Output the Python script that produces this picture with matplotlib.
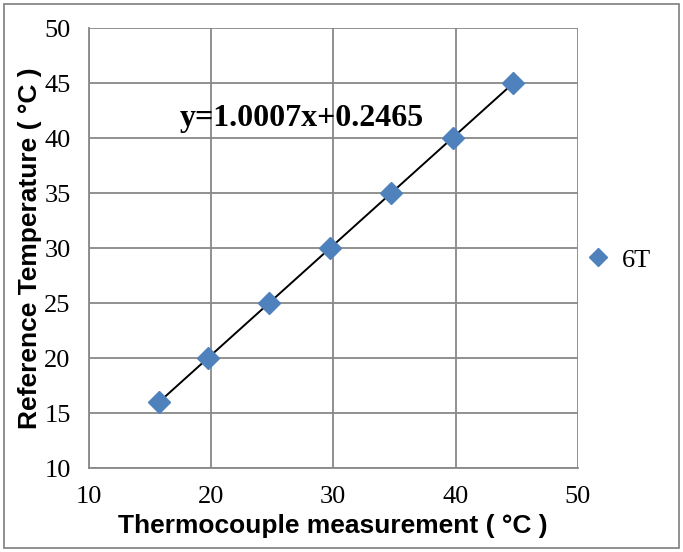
import numpy as np
import matplotlib.pyplot as plt
from matplotlib.patches import Rectangle

# Calibration data: thermocouple reading vs reference temperature
thermocouple = [15.75, 19.75, 24.75, 29.75, 34.75, 39.75, 44.7]
reference = [16, 20, 25, 30, 35, 40, 45]
slope, intercept = 1.0007, 0.2465
series_name = "6T"
x_ticks = [10, 20, 30, 40, 50]
y_ticks = [10, 15, 20, 25, 30, 35, 40, 45, 50]

serif = ["Liberation Serif", "DejaVu Serif"]
sans = ["Liberation Sans", "DejaVu Sans"]

fig = plt.figure(figsize=(6.83, 5.52), dpi=100)
ax = fig.add_axes([0.130, 0.152, 0.716, 0.797])

grid_c = "#888888"
ax.set_xlim(10, 50)
ax.set_ylim(10, 50)
ax.set_xticks(x_ticks)
ax.set_yticks(y_ticks)
ax.grid(True, color=grid_c, linewidth=1.3)
ax.set_axisbelow(True)
for side in ("top", "right"):
    ax.spines[side].set_visible(False)
for side in ("left", "bottom"):
    ax.spines[side].set_color(grid_c)
    ax.spines[side].set_linewidth(1.3)
ax.tick_params(axis="x", length=0, pad=13, labelsize=19)
ax.tick_params(axis="y", length=0, pad=13, labelsize=19)
for lab in ax.get_xticklabels() + ax.get_yticklabels():
    lab.set_family(serif)

# Linear trend line
xs = np.array([min(thermocouple), max(thermocouple)])
ax.plot(xs, slope * xs + intercept, color="black", linewidth=1.4, zorder=3)
pts, = ax.plot(thermocouple, reference, linestyle="none", marker="D",
               markersize=11.5, color="#4F81BD", zorder=4, label=series_name)

ax.text(0.186, 0.795, f"y={slope}x+{intercept}", transform=ax.transAxes,
        fontsize=23, fontweight="bold", family=serif, ha="left", va="center")

ax.set_xlabel("Thermocouple measurement ( °C )", fontsize=19, fontweight="bold",
              family=sans, labelpad=4)
ax.set_ylabel("Reference Temperature ( °C )", fontsize=19, fontweight="bold",
              family=sans, labelpad=2)

leg = fig.legend(handles=[pts], loc="center left", bbox_to_anchor=(0.818, 0.529),
                 frameon=False, prop={"family": serif, "size": 19},
                 handletextpad=0.3, markerscale=0.8, handlelength=1.2)

fig.patches.append(Rectangle((0.006, 0.007), 0.988, 0.986, transform=fig.transFigure,
                             fill=False, edgecolor="#888888", linewidth=1.3))

fig.savefig("out.png", dpi=100)
